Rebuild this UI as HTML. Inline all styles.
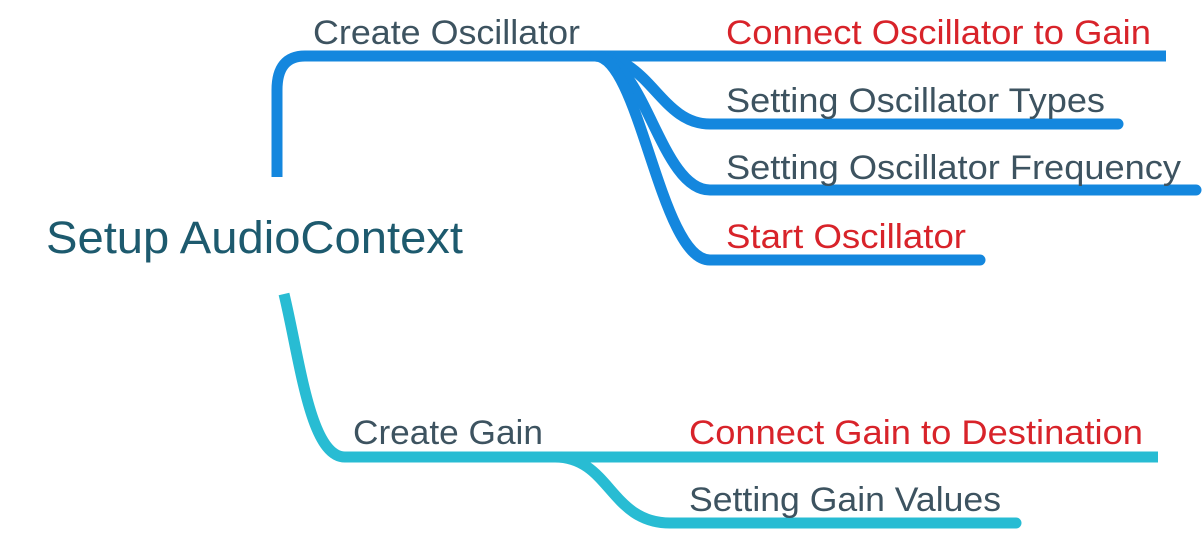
<!DOCTYPE html>
<html><head><meta charset="utf-8"><style>html,body{margin:0;padding:0;background:#fff;width:1204px;height:534px;overflow:hidden}</style></head>
<body>
<svg width="1204" height="534" xmlns="http://www.w3.org/2000/svg" style="display:block">
<g fill="none" stroke-linecap="round" stroke-width="11">
<g stroke="#1487de">
<path d="M277 177 L277 90 Q277 56 305 56 L1166 56" stroke-linecap="butt"/>
<path d="M595 56 C650 56 660 124 710 124 L1118 124"/>
<path d="M595 56 C645 56 660 190 710 190 L1196 190"/>
<path d="M595 56 C640 56 660 260 710 260 L980 260"/>
</g>
<g stroke="#28bcd3">
<path d="M284 294 C300 360 310 457 345 457 L1158 457" stroke-linecap="butt"/>
<path d="M555 457 C610 457 610 523 670 523 L1016 523"/>
</g>
</g>
<g font-family="Liberation Sans, sans-serif" lengthAdjust="spacingAndGlyphs">
<text x="46" y="253" font-size="45" fill="#1d5a6e" textLength="417" lengthAdjust="spacingAndGlyphs">Setup AudioContext</text>
<g font-size="34" fill="#3d5360">
<text x="313" y="44" textLength="267" lengthAdjust="spacingAndGlyphs">Create Oscillator</text>
<text x="726" y="112" textLength="379" lengthAdjust="spacingAndGlyphs">Setting Oscillator Types</text>
<text x="726" y="179" textLength="455" lengthAdjust="spacingAndGlyphs">Setting Oscillator Frequency</text>
<text x="353" y="444" textLength="190" lengthAdjust="spacingAndGlyphs">Create Gain</text>
<text x="689" y="511" textLength="312" lengthAdjust="spacingAndGlyphs">Setting Gain Values</text>
</g>
<g font-size="34" fill="#d8232a">
<text x="726" y="44" textLength="425" lengthAdjust="spacingAndGlyphs">Connect Oscillator to Gain</text>
<text x="726" y="248" textLength="240" lengthAdjust="spacingAndGlyphs">Start Oscillator</text>
<text x="689" y="444" textLength="454" lengthAdjust="spacingAndGlyphs">Connect Gain to Destination</text>
</g>
</g>
</svg>
</body></html>
